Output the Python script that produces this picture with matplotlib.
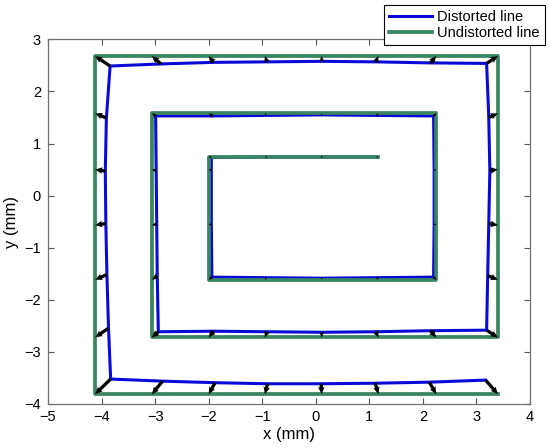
import matplotlib
matplotlib.use("Agg")
import matplotlib.pyplot as plt

plt.rcParams['font.family'] = ['Liberation Sans', 'DejaVu Sans']
plt.rcParams['axes.unicode_minus'] = True

# Undistorted line sample points (mm)
undist_x = [1.17, 0.11, -0.95, -2.00,
            -2.00, -2.00, -2.00,
            -0.95, 0.11, 1.17, 2.25,
            2.25, 2.25, 2.25,
            1.17, 0.11, -0.95, -2.00, -3.06,
            -3.06, -3.06, -3.06, -3.06,
            -2.00, -0.95, 0.11, 1.17, 2.25, 3.40,
            3.40, 3.40, 3.40, 3.40, 3.40,
            2.25, 1.17, 0.11, -0.95, -2.00, -3.06, -4.12,
            -4.12, -4.12, -4.12, -4.12, -4.12, -4.12,
            -3.06, -2.00, -0.95, 0.11, 1.17, 2.25, 3.40]
undist_y = [0.75, 0.75, 0.75, 0.75,
            0.50, -0.57, -1.62,
            -1.62, -1.62, -1.62, -1.62,
            -0.57, 0.50, 1.58,
            1.58, 1.58, 1.58, 1.58, 1.58,
            0.50, -0.57, -1.62, -2.73,
            -2.73, -2.73, -2.73, -2.73, -2.73, -2.73,
            -1.62, -0.57, 0.50, 1.58, 2.68,
            2.68, 2.68, 2.68, 2.68, 2.68, 2.68, 2.68,
            1.58, 0.50, -0.57, -1.62, -2.73, -3.82,
            -3.82, -3.82, -3.82, -3.82, -3.82, -3.82, -3.82]

# Distorted line sample points (mm)
dist_x = [1.15, 0.11, -0.93, -1.95,
          -1.95, -1.95, -1.94,
          -0.93, 0.11, 1.14, 2.20,
          2.21, 2.21, 2.20,
          1.14, 0.11, -0.93, -1.93, -2.99,
          -2.98, -2.97, -2.96, -2.94,
          -1.91, -0.91, 0.11, 1.12, 2.14, 3.19,
          3.21, 3.23, 3.25, 3.23, 3.19,
          2.14, 1.12, 0.11, -0.91, -1.91, -2.89, -3.84,
          -3.91, -3.93, -3.92, -3.90, -3.87, -3.83,
          -2.86, -1.88, -0.90, 0.10, 1.11, 2.12, 3.17]
dist_y = [0.74, 0.74, 0.74, 0.73,
          0.49, -0.55, -1.57,
          -1.58, -1.59, -1.58, -1.57,
          -0.55, 0.49, 1.53,
          1.54, 1.55, 1.54, 1.53, 1.53,
          0.48, -0.55, -1.55, -2.62,
          -2.61, -2.62, -2.63, -2.62, -2.60, -2.59,
          -1.54, -0.54, 0.48, 1.50, 2.54,
          2.55, 2.57, 2.58, 2.57, 2.56, 2.53, 2.49,
          1.49, 0.47, -0.54, -1.52, -2.55, -3.53,
          -3.57, -3.60, -3.62, -3.62, -3.61, -3.59, -3.55]

x_ticks = [-5, -4, -3, -2, -1, 0, 1, 2, 3, 4]
y_ticks = [-4, -3, -2, -1, 0, 1, 2, 3]

fig = plt.figure(figsize=(5.5, 4.48), dpi=100)
ax = fig.add_axes([48/550, 1-403.5/448, (530-48)/550, (403.5-39.5)/448])

ax.plot(dist_x, dist_y, color='#0a0ad8', lw=2.2, label='Distorted line', zorder=2)
ax.plot(undist_x, undist_y, color='#3a8462', lw=2.7, label='Undistorted line', zorder=3)

u = [ux - dx for ux, dx in zip(undist_x, dist_x)]
v = [uy - dy for uy, dy in zip(undist_y, dist_y)]
ax.quiver(dist_x, dist_y, u, v, angles='xy', scale_units='xy', scale=1,
          color='black', width=0.0068, headwidth=2.0, headlength=2.2,
          headaxislength=2.0, minlength=0.5, zorder=4)

ax.set_xlim(-5, 4)
ax.set_ylim(-4, 3)
ax.set_xticks(x_ticks)
ax.set_yticks(y_ticks)
ax.tick_params(direction='in', top=True, right=True, length=4.5, width=0.8,
               color='#555555', labelsize=10.5, pad=5)
for s in ax.spines.values():
    s.set_color('#707070')
    s.set_linewidth(0.9)
ax.set_xlabel('x (mm)', fontsize=12, labelpad=2)
ax.set_ylabel('y (mm)', fontsize=12, labelpad=4)

leg = fig.legend(loc='upper right', bbox_to_anchor=(545/550, 1-5/448),
                 fontsize=10.5, handlelength=2.9, handletextpad=0.4,
                 borderpad=0.35, labelspacing=0.15, borderaxespad=0,
                 fancybox=False, framealpha=1)
leg.get_frame().set_edgecolor('black')
leg.get_frame().set_linewidth(0.8)

fig.savefig('out.png', dpi=100)
